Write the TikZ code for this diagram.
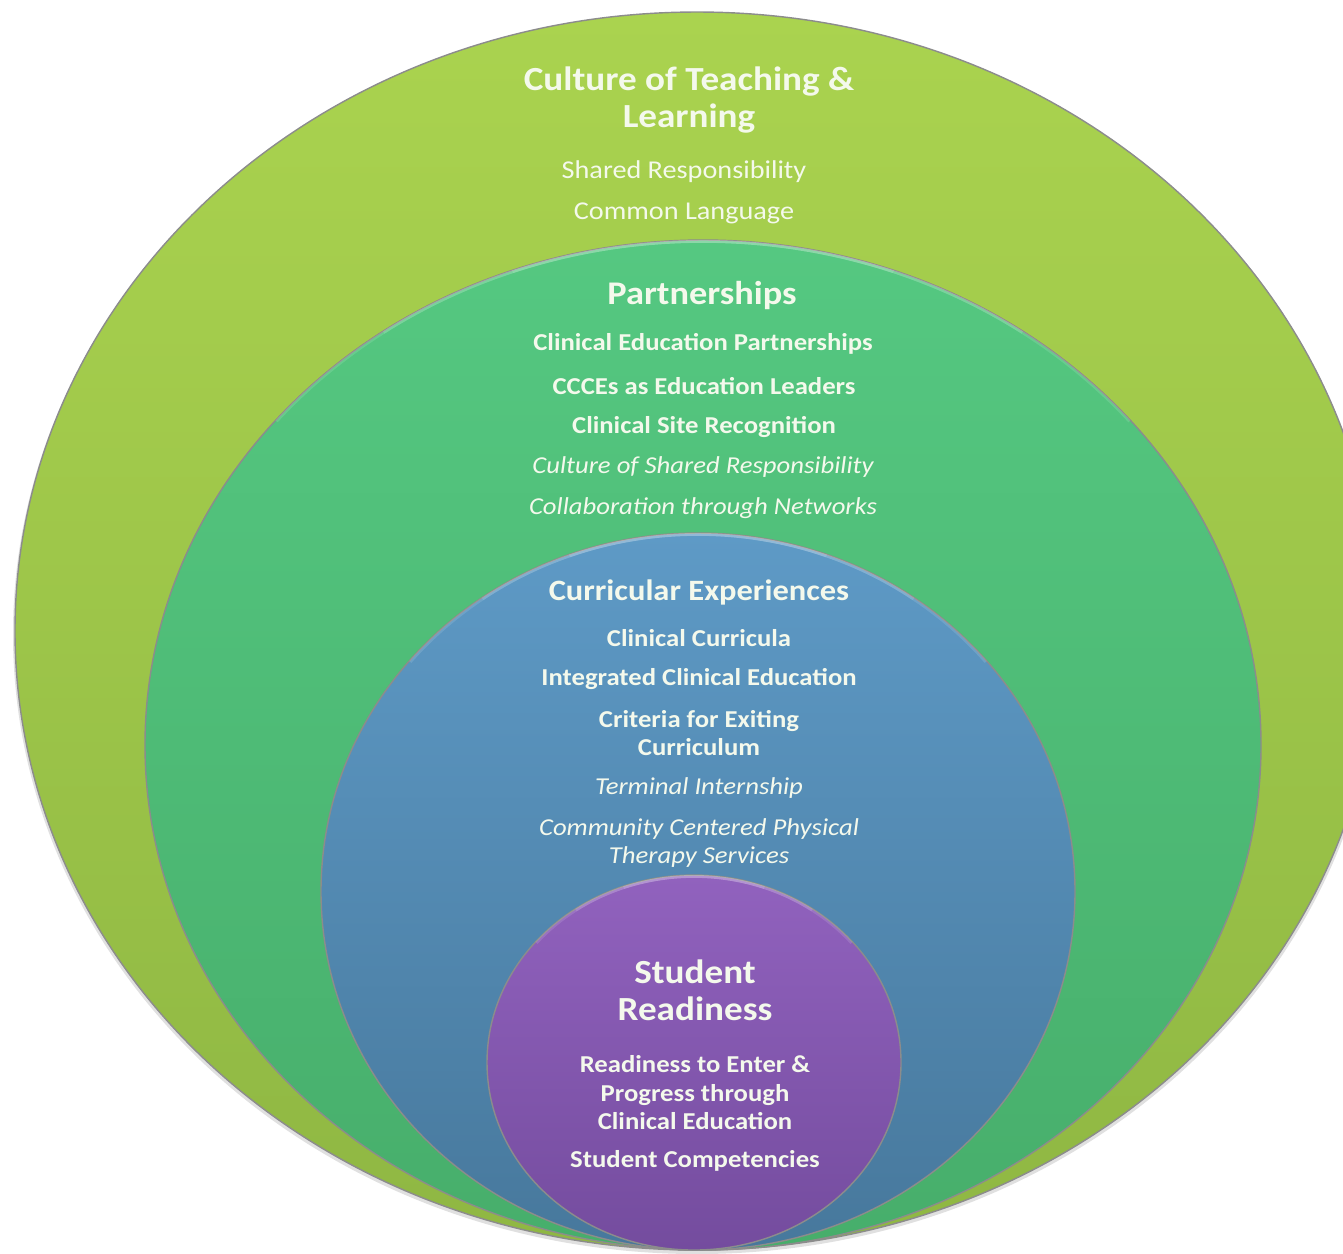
\documentclass[tikz,border=0pt]{standalone}
\usepackage{fontspec}
\setmainfont{Carlito}[FakeStretch=1.1]
\definecolor{limetop}{HTML}{AAD34F}
\definecolor{limebot}{HTML}{8FB743}
\definecolor{greentop}{HTML}{55C881}
\definecolor{greenbot}{HTML}{47AE6B}
\definecolor{bluetop}{HTML}{5E9AC6}
\definecolor{bluebot}{HTML}{47789C}
\definecolor{purptop}{HTML}{9162BE}
\definecolor{purpbot}{HTML}{744C9E}
\definecolor{txt}{HTML}{F4F9EC}

\begin{document}
\begin{tikzpicture}
[x=0.01cm,y=-0.01cm,
 every node/.style={text=txt,inner sep=0pt,align=center},
 big/.style={font=\fontsize{9.6}{10.6}\selectfont\bfseries},
 head/.style={font=\fontsize{8.4}{9.5}\selectfont\bfseries},
 item/.style={font=\fontsize{6.9}{8.1}\selectfont\bfseries},
 soft/.style={font=\fontsize{7.3}{8.1}\selectfont},
 slant/.style={font=\fontsize{6.9}{8.1}\selectfont\itshape},
 ring/.style={draw=black!45,line width=0.4pt},
 rim/.style={white,opacity=.12,line width=1.6pt}]
\useasboundingbox (0,0) rectangle (1343,1253);
\clip (0,0) rectangle (1343,1253);
% rings
\fill[black!30,opacity=.4] (697,634) ellipse [x radius=684, y radius=620];
\shadedraw[ring,top color=limetop,bottom color=limebot] (697,631) ellipse [x radius=682, y radius=619];
\shadedraw[ring,top color=greentop,bottom color=greenbot] (703,745) ellipse [x radius=558, y radius=505];
\begin{scope}
\clip (703,745) ellipse [x radius=558, y radius=505];
\foreach \a in {20,35,50}
\draw[rim] ([shift={(703,745)}]270-\a:558 and 505) arc [start angle=270-\a, end angle=270+\a, x radius=558, y radius=505];
\end{scope}
\shadedraw[ring,top color=bluetop,bottom color=bluebot] (698,891.5) ellipse [x radius=377, y radius=358.5];
\begin{scope}
\clip (698,891.5) ellipse [x radius=377, y radius=358.5];
\foreach \a in {20,35,50}
\draw[rim] ([shift={(698,891.5)}]270-\a:377 and 358.5) arc [start angle=270-\a, end angle=270+\a, x radius=377, y radius=358.5];
\end{scope}
\shadedraw[ring,top color=purptop,bottom color=purpbot] (694,1062.5) ellipse [x radius=207, y radius=187.5];
\begin{scope}
\clip (694,1062.5) ellipse [x radius=207, y radius=187.5];
\foreach \a in {20,35,50}
\draw[rim] ([shift={(694,1062.5)}]270-\a:207 and 187.5) arc [start angle=270-\a, end angle=270+\a, x radius=207, y radius=187.5];
\end{scope}
% culture
\node[big] (culture) at (689,100) {Culture of Teaching \&\\Learning};
\node[soft] (shared) at (684,172) {Shared Responsibility};
\node[soft] (language) at (684,213) {Common Language};
% partnerships
\node[head,font=\fontsize{9.4}{10}\selectfont\bfseries] (partner) at (702,295) {Partnerships};
\node[item] (cep) at (703,344) {Clinical Education Partnerships};
\node[item] (ccce) at (704,386) {CCCEs as Education Leaders};
\node[item] (site) at (704,427) {Clinical Site Recognition};
\node[slant] (cosr) at (703,467) {Culture of Shared Responsibility};
\node[slant] (collab) at (703,508) {Collaboration through Networks};
% curricular experiences
\node[head] (curric) at (699,592) {Curricular Experiences};
\node[item] (cc) at (699,638) {Clinical Curricula};
\node[item] (ice) at (699,679) {Integrated Clinical Education};
\node[item] (exit) at (699,733) {Criteria for Exiting\\Curriculum};
\node[slant] (term) at (699,788) {Terminal Internship};
\node[slant] (ccpt) at (699,843) {Community Centered Physical\\Therapy Services};
% student readiness
\node[big] (student) at (695,990) {Student\\Readiness};
\node[item] (enter) at (695,1093) {Readiness to Enter \&\\Progress through\\Clinical Education};
\node[item] (comp) at (695,1161) {Student Competencies};
\end{tikzpicture}
\end{document}
